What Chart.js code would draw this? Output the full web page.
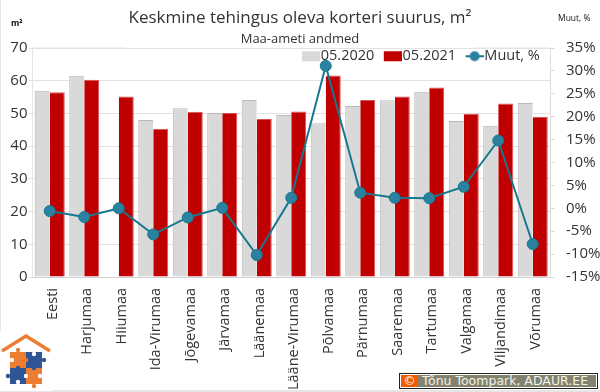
<!DOCTYPE html>
<html lang="et">
<head>
    <meta charset="UTF-8">
    <title>Keskmine tehingus oleva korteri suurus</title>
    <style>
        body {
            margin: 0;
            background: #ffffff;
        }

        .page {
            position: relative;
            width: 600px;
            height: 392px;
            overflow: hidden;
            font-family: "Open Sans", sans-serif;
        }

        canvas {
            position: absolute;
            left: 0;
            top: 0;
        }

        .frame {
            position: absolute;
            left: 0;
            top: 0;
            width: 599px;
            height: 390px;
            border-left: 1px solid #e6e6e6;
            border-bottom: 2px solid #e6e6e6;
        }

        .unit {
            position: absolute;
            font-size: 8.5px;
            line-height: 10px;
            color: #111111;
        }

        .logo {
            position: absolute;
            left: 0;
            top: 331px;
        }

        .copy {
            position: absolute;
            left: 399px;
            top: 373px;
            width: 197px;
            height: 14px;
            border: 1px solid #222222;
            outline: 1px solid #ffffff;
            outline-offset: -2px;
            background: #82826e;
            color: #f2f2ea;
            font: 12.5px/14px "DejaVu Sans", sans-serif;
            white-space: nowrap;
        }

        .copy b {
            display: inline-block;
            width: 17px;
            height: 12px;
            margin: 1px 4px 0 1px;
            background: #f05a00;
            color: #ffffff;
            font-weight: normal;
            line-height: 12px;
            text-align: center;
            vertical-align: top;
        }
    </style>
    <script src="https://cdn.jsdelivr.net/npm/chart.js"></script>
</head>
<body>
    <div class="page">
        <canvas id="myChart" width="600" height="392"></canvas>
        <div class="frame"></div>
        <div class="unit" style="left:11px;top:18px;font-weight:bold">m²</div>
        <div class="unit" style="left:558px;top:13px">Muut, %</div>
        <svg class="logo" width="52" height="60" viewBox="0 0 52 60">
            <rect width="52" height="60" fill="#ffffff"/>
            <path d="M2 20 L26 5 L50 20" fill="none" stroke="#ed7d31" stroke-width="3.5"/>
            <rect x="10" y="21" width="16" height="16" fill="#ed7d31"/>
            <rect x="26" y="21" width="16" height="16" fill="#2f5597"/>
            <rect x="10" y="37" width="16" height="16" fill="#2f5597"/>
            <rect x="26" y="37" width="16" height="16" fill="#ed7d31"/>
            <circle cx="18" cy="19" r="2.2" fill="#ed7d31"/>
            <circle cx="44" cy="29" r="2.2" fill="#2f5597"/>
            <circle cx="8" cy="45" r="2.2" fill="#2f5597"/>
            <circle cx="34" cy="55" r="2.2" fill="#ed7d31"/>
            <circle cx="18" cy="37" r="2.2" fill="#2f5597"/>
            <circle cx="34" cy="37" r="2.2" fill="#2f5597"/>
            <circle cx="26" cy="29" r="2.2" fill="#ed7d31"/>
            <circle cx="26" cy="45" r="2.2" fill="#ffffff"/>
            <circle cx="12" cy="29" r="2.2" fill="#ffffff"/>
            <circle cx="40" cy="45" r="2.2" fill="#ffffff"/>
            <circle cx="34" cy="23" r="2.2" fill="#ffffff"/>
            <circle cx="18" cy="51" r="2.2" fill="#ffffff"/>
        </svg>
        <div class="copy"><b>©</b>Tõnu Toompark, ADAUR.EE</div>
    </div>

    <script>
        const categories = ['Eesti', 'Harjumaa', 'Hiiumaa', 'Ida-Virumaa', 'Jõgevamaa', 'Järvamaa', 'Läänemaa', 'Lääne-Virumaa', 'Põlvamaa', 'Pärnumaa', 'Saaremaa', 'Tartumaa', 'Valgamaa', 'Viljandimaa', 'Võrumaa'];
        const values2020 = [56.9, 61.5, null, 48.0, 51.6, 50.1, 54.1, 49.5, 47.0, 52.3, 54.0, 56.6, 47.7, 46.2, 53.2];
        const values2021 = [56.5, 60.3, 55.2, 45.3, 50.5, 50.1, 48.3, 50.6, 61.6, 54.1, 55.2, 57.9, 49.9, 53.0, 49.0];
        const changePct = [-0.6, -1.9, 0.0, -5.7, -2.0, 0.1, -10.2, 2.3, 31.1, 3.4, 2.3, 2.2, 4.7, 14.8, -7.8];

        const gridColor = '#e2e2e2';
        const textColor = '#333333';
        const lineColor = '#16788f';
        const markerColor = '#2b82a0';

        // small pictures for the legend, Excel style
        // left 4px of each stays empty so the icon sits close to its text
        function legendRect(color) {
            const c = document.createElement('canvas');
            c.width = 22;
            c.height = 14;
            const ctx = c.getContext('2d');
            ctx.fillStyle = color;
            ctx.fillRect(4, 2, 18, 10);
            return c;
        }

        function legendLine() {
            const c = document.createElement('canvas');
            c.width = 22;
            c.height = 14;
            const ctx = c.getContext('2d');
            ctx.fillStyle = lineColor;
            ctx.fillRect(4, 6, 18, 2);
            ctx.fillStyle = markerColor;
            ctx.beginPath();
            ctx.arc(13, 7, 5, 0, Math.PI * 2);
            ctx.fill();
            return c;
        }

        const legendIcons = [legendRect('#d9d9d9'), legendRect('#c00000'), legendLine()];

        const headerPlugin = {
            id: 'headerPlugin',
            afterLayout(chart) {
                // legend sits on top of the plot, Excel style
                chart.legend.top = 37;
                chart.legend.bottom = 80;
                chart.legend.left = 292.5;
                chart.legend.right = 600;
            },
            beforeDatasetsDraw(chart) {
                // the 70 line is cut by the title block
                const y = chart.scales.y.getPixelForValue(70);
                const ctx = chart.ctx;
                ctx.save();
                ctx.strokeStyle = gridColor;
                ctx.lineWidth = 1;
                ctx.beginPath();
                ctx.moveTo(chart.chartArea.left, y);
                ctx.lineTo(126, y);
                ctx.moveTo(474, y);
                ctx.lineTo(chart.chartArea.right, y);
                ctx.stroke();
                ctx.restore();
            }
        };

        new Chart(document.getElementById('myChart'), {
            data: {
                labels: categories,
                datasets: [
                    {
                        type: 'bar',
                        label: '05.2020',
                        data: values2020,
                        yAxisID: 'y',
                        order: 1,
                        backgroundColor: '#d9d9d9',
                        borderColor: '#b8b8b8',
                        borderWidth: { left: 1, top: 1, right: 0, bottom: 0 }
                    },
                    {
                        type: 'bar',
                        label: '05.2021',
                        data: values2021,
                        yAxisID: 'y',
                        order: 1,
                        backgroundColor: '#c00000',
                        borderColor: '#d85050',
                        borderWidth: { left: 0, top: 1, right: 1, bottom: 0 }
                    },
                    {
                        type: 'line',
                        label: 'Muut, %',
                        data: changePct,
                        yAxisID: 'y1',
                        order: 0,
                        borderColor: lineColor,
                        borderWidth: 2,
                        tension: 0,
                        pointRadius: 5.5,
                        pointBackgroundColor: markerColor,
                        pointBorderColor: lineColor,
                        pointBorderWidth: 1
                    }
                ]
            },
            options: {
                responsive: false,
                animation: false,
                datasets: {
                    bar: {
                        categoryPercentage: 0.87,
                        barPercentage: 1
                    }
                },
                layout: {
                    padding: 0
                },
                scales: {
                    x: {
                        grid: { drawOnChartArea: false, drawTicks: false },
                        border: { color: '#cfcfcf' },
                        ticks: {
                            autoSkip: false,
                            minRotation: 90,
                            maxRotation: 90,
                            padding: 11,
                            labelOffset: 3,
                            color: textColor,
                            font: { family: 'Open Sans', size: 14.5 }
                        },
                        afterFit(scale) {
                            scale.height = 115;
                        }
                    },
                    y: {
                        position: 'left',
                        min: 0,
                        max: 70,
                        grid: { color: gridColor, tickLength: 4 },
                        border: { color: '#e6e6e6' },
                        ticks: {
                            stepSize: 10,
                            padding: 1,
                            color: textColor,
                            font: { family: 'Open Sans', size: 15 }
                        },
                        afterFit(scale) {
                            scale.width = 32.5;
                        }
                    },
                    y1: {
                        position: 'right',
                        min: -15,
                        max: 35,
                        grid: { drawOnChartArea: false, color: '#dcdcdc', tickLength: 5 },
                        border: { color: '#dcdcdc' },
                        ticks: {
                            stepSize: 5,
                            padding: 11,
                            color: textColor,
                            font: { family: 'Open Sans', size: 15 },
                            callback: value => value + '%'
                        },
                        afterFit(scale) {
                            scale.width = 50;
                        }
                    }
                },
                plugins: {
                    title: {
                        display: true,
                        text: 'Keskmine tehingus oleva korteri suurus, m²',
                        color: textColor,
                        font: { family: 'Open Sans', size: 17, weight: 'normal' },
                        padding: { top: 8, bottom: 3 }
                    },
                    subtitle: {
                        display: true,
                        text: 'Maa-ameti andmed',
                        color: textColor,
                        font: { family: 'Open Sans', size: 13 },
                        padding: { top: 0, bottom: 0 }
                    },
                    legend: {
                        position: 'top',
                        align: 'start',
                        maxHeight: 1, // takes no room from the plot
                        labels: {
                            usePointStyle: true,
                            pointStyleWidth: 9,
                            padding: 12,
                            color: textColor,
                            font: { family: 'Open Sans', size: 14.5 },
                            generateLabels(chart) {
                                return chart.data.datasets.map((ds, i) => ({
                                    text: ds.label,
                                    fontColor: textColor,
                                    pointStyle: legendIcons[i],
                                    datasetIndex: i
                                }));
                            }
                        }
                    },
                    tooltip: { enabled: false }
                }
            },
            plugins: [headerPlugin]
        });
    </script>
</body>
</html>
